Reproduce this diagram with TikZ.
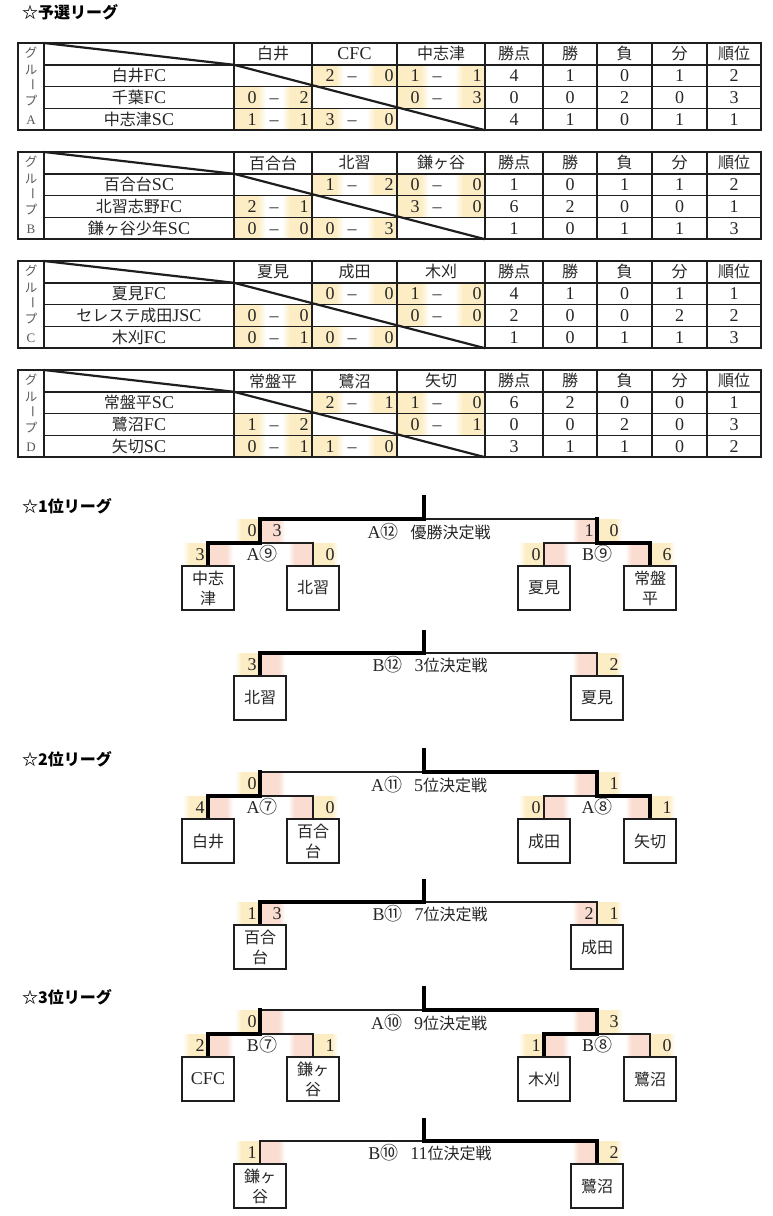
\documentclass[tikz,border=0pt]{standalone}
\usepackage{fontspec}
\setmainfont{Liberation Serif}
\newfontfamily\jp{Noto Sans CJK JP}
\definecolor{sy}{RGB}{252,237,196}
\definecolor{sp}{RGB}{250,220,208}
\definecolor{ln}{RGB}{30,30,30}
\pgfdeclarehorizontalshading{yfl}{100bp}{color(0bp)=(white); color(25bp)=(white); color(38bp)=(sy); color(100bp)=(sy)}
\pgfdeclarehorizontalshading{yfr}{100bp}{color(0bp)=(sy); color(62bp)=(sy); color(75bp)=(white); color(100bp)=(white)}
\pgfdeclarehorizontalshading{pfl}{100bp}{color(0bp)=(white); color(25bp)=(white); color(38bp)=(sp); color(100bp)=(sp)}
\pgfdeclarehorizontalshading{pfr}{100bp}{color(0bp)=(sp); color(62bp)=(sp); color(75bp)=(white); color(100bp)=(white)}
\newcount\nnc
\newcommand\J[1]{{\jp\fontsize{16}{20}\selectfont #1}}
\newcommand\CN[1]{{\jp\fontsize{18}{20}\selectfont #1}}
\newcommand\TX[4][]{\global\advance\nnc by 1\relax\node[tx,#1] (n\the\nnc) at (#2,#3) {#4};}
\tikzset{
  tx/.style={inner sep=0pt, font=\fontsize{18}{20}\selectfont, text=black!85},
  dsh/.style={anchor=base},
  tl/.style={draw=ln, line width=1.5pt},
  dg/.style={draw=ln, line width=2.2pt},
  tn/.style={draw=ln, line width=1.3pt},
  tk/.style={draw=black, line width=3.6pt, shorten >=-1.8pt},
  bx/.style={draw=ln, line width=1.3pt, fill=white, minimum width=52pt, minimum height=44pt, inner sep=0pt, align=center, text=black!85, font=\jp\fontsize{16}{20}\selectfont},
  gl/.style={inner sep=0pt, text=black!65, font=\jp\fontsize{12.5}{13}\selectfont},
  ttl/.style={anchor=west, inner sep=0pt, font=\jp\bfseries\fontsize{16}{18}\selectfont}
}
% table helpers
\newcommand\scc[4]{%
  \pgfmathsetmacro\xl{{234,312,397}[#1-1]}%
  \pgfmathsetmacro\xr{{312,397,485}[#1-1]}%
  \pgfmathsetmacro\yt{21.8*#2}%
  \pgfmathsetmacro\yc{21.8*#2+10.9}%
  \pgfmathsetmacro\yb{21.8*#2+17}%
  \shade[shading=yfr] (\xl,\yt) rectangle ++(32,21.8);
  \shade[shading=yfl] (\xr,\yt) rectangle ++(-30,21.8);
  \TX{\xl+18}{\yc}{#3}\TX[dsh]{\xl+40}{\yb}{–}\TX{\xr-8}{\yc}{#4}}
\newcommand\tframe{%
  \draw[tl] (18,0) rectangle (761,87.2);
  \foreach \x in {44,234,312,397,485,543,597,652,707} {\draw[tl] (\x,0) -- (\x,87.2);}
  \foreach \y in {21.8,43.6,65.4} {\draw[tl] (44,\y) -- (761,\y);}
  \draw[dg] (44,0) -- (234,21.8);
  \draw[dg] (234,21.8) -- (485,87.2);}
\newcommand\thd[4]{%
  \TX[gl]{31}{9.5}{グ}\TX[gl]{31}{26.5}{ル}\TX[gl,rotate=-90]{31}{42}{ー}\TX[gl]{31}{58}{プ}%
  \TX[gl,font=\fontsize{13}{14}\selectfont]{31}{77.5}{#1}%
  \TX{273}{10.9}{#2}\TX{354.5}{10.9}{#3}\TX{441}{10.9}{#4}%
  \TX{514}{10.9}{\J{勝点}}\TX{570}{10.9}{\J{勝}}\TX{624.5}{10.9}{\J{負}}\TX{679.5}{10.9}{\J{分}}\TX{734}{10.9}{\J{順位}}}
\newcommand\trow[3]{%
  \pgfmathsetmacro\yc{21.8*#1+10.9}%
  \TX{139}{\yc}{#2}%
  \foreach \v [count=\i] in {#3} {\pgfmathsetmacro\xs{{514,570,624.5,679.5,734}[\i-1]}\TX{\xs}{\yc}{\v}}}
% bracket helpers
\newcommand\cY[5]{%
  \pgfmathsetmacro\ym{(#2+#3)/2}%
  \shade[shading=yfl] (#1-25,#2) rectangle (#1,#3);
  \shade[shading=pfr] (#1,#2) rectangle (#1+25,#3);
  \if\relax\detokenize{#4}\relax\else\TX{#1-8}{\ym}{#4}\fi
  \if\relax\detokenize{#5}\relax\else\TX{#1+17}{\ym}{#5}\fi}
\newcommand\cR[5]{%
  \pgfmathsetmacro\ym{(#2+#3)/2}%
  \shade[shading=pfl] (#1-25,#2) rectangle (#1,#3);
  \shade[shading=yfr] (#1,#2) rectangle (#1+25,#3);
  \if\relax\detokenize{#4}\relax\else\TX{#1-8}{\ym}{#4}\fi
  \if\relax\detokenize{#5}\relax\else\TX{#1+17}{\ym}{#5}\fi}
\newcommand\upc[1]{%
  \coordinate (#1c) at (424,0); \coordinate (#1s) at (424,-22);
  \coordinate (#1a) at (260,0); \coordinate (#1b) at (597,0);
  \coordinate (#1a2) at (260,24); \coordinate (#1b2) at (597,24);
  \coordinate (#1l1) at (208,24); \coordinate (#1l2) at (313,24);
  \coordinate (#1r1) at (544,24); \coordinate (#1r2) at (650,24);}
\newcommand\upbox[5]{%
  \node[bx] (#1t1) at (208,69) {#2};
  \node[bx] (#1t2) at (313,69) {#3};
  \node[bx] (#1t3) at (544,69) {#4};
  \node[bx] (#1t4) at (650,69) {#5};
  \draw[tn] (#1t1.north) -- (#1l1) -- (#1l2) -- (#1t2.north);
  \draw[tn] (#1a2) -- (#1a) -- (#1b) -- (#1b2);
  \draw[tn] (#1t3.north) -- (#1r1) -- (#1r2) -- (#1t4.north);}
\newcommand\loc[1]{%
  \coordinate (#1Lc) at (424,0); \coordinate (#1Ls) at (424,-21);
  \coordinate (#1La) at (260,0); \coordinate (#1Lb) at (597,0);}
\newcommand\lobox[3]{%
  \node[bx] (#1u1) at (260,45) {#2};
  \node[bx] (#1u2) at (597,45) {#3};
  \draw[tn] (#1u1.north) -- (#1La) -- (#1Lb) -- (#1u2.north);}
\begin{document}
\begin{tikzpicture}[x=1pt,y=-1pt]
\useasboundingbox (0,0) rectangle (773,1216);
\node[ttl] (ttl0) at (22,12) {☆予選リーグ};
% ---------- group A
\begin{scope}[yshift=-43pt]
  \scc{2}{1}{2}{0}\scc{3}{1}{1}{1}
  \scc{1}{2}{0}{2}\scc{3}{2}{0}{3}
  \scc{1}{3}{1}{1}\scc{2}{3}{3}{0}
  \tframe
  \thd{A}{\J{白井}}{CFC}{\J{中志津}}
  \trow{1}{\J{白井}FC}{4,1,0,1,2}
  \trow{2}{\J{千葉}FC}{0,0,2,0,3}
  \trow{3}{\J{中志津}SC}{4,1,0,1,1}
\end{scope}
% ---------- group B
\begin{scope}[yshift=-152pt]
  \scc{2}{1}{1}{2}\scc{3}{1}{0}{0}
  \scc{1}{2}{2}{1}\scc{3}{2}{3}{0}
  \scc{1}{3}{0}{0}\scc{2}{3}{0}{3}
  \tframe
  \thd{B}{\J{百合台}}{\J{北習}}{\J{鎌ヶ谷}}
  \trow{1}{\J{百合台}SC}{1,0,1,1,2}
  \trow{2}{\J{北習志野}FC}{6,2,0,0,1}
  \trow{3}{\J{鎌ヶ谷少年}SC}{1,0,1,1,3}
\end{scope}
% ---------- group C
\begin{scope}[yshift=-261pt]
  \scc{2}{1}{0}{0}\scc{3}{1}{1}{0}
  \scc{1}{2}{0}{0}\scc{3}{2}{0}{0}
  \scc{1}{3}{0}{1}\scc{2}{3}{0}{0}
  \tframe
  \thd{C}{\J{夏見}}{\J{成田}}{\J{木刈}}
  \trow{1}{\J{夏見}FC}{4,1,0,1,1}
  \trow{2}{\J{セレステ成田}JSC}{2,0,0,2,2}
  \trow{3}{\J{木刈}FC}{1,0,1,1,3}
\end{scope}
% ---------- group D
\begin{scope}[yshift=-370pt]
  \scc{2}{1}{2}{1}\scc{3}{1}{1}{0}
  \scc{1}{2}{1}{2}\scc{3}{2}{0}{1}
  \scc{1}{3}{0}{1}\scc{2}{3}{1}{0}
  \tframe
  \thd{D}{\J{常盤平}}{\J{鷺沼}}{\J{矢切}}
  \trow{1}{\J{常盤平}SC}{6,2,0,0,1}
  \trow{2}{\J{鷺沼}FC}{0,0,2,0,3}
  \trow{3}{\J{矢切}SC}{3,1,1,0,2}
\end{scope}
% ---------- 1st league
\begin{scope}[yshift=-519pt]
  \node[ttl] (ttl1) at (22,-13) {☆1位リーグ};
  \upc{S1}
  \cY{260}{0}{24}{0}{3}\cR{597}{0}{24}{1}{0}
  \cY{208}{24}{47}{3}{}\cR{313}{24}{47}{}{0}\cY{544}{24}{47}{0}{}\cR{650}{24}{47}{}{6}
  \upbox{S1}{中志\\津}{北習}{夏見}{常盤\\平}
  \draw[tk] (S1t1.north) -- (S1l1) -- (S1a2) -- (S1a) -- (S1c) -- (S1s);
  \draw[tk] (S1t4.north) -- (S1r2) -- (S1b2) -- (S1b);
  \TX{262}{35}{A\CN{⑨}}\TX{597}{35}{B\CN{⑨}}
  \TX{429}{12.5}{A\CN{⑫}\hspace{12pt}\J{優勝決定戦}}
\end{scope}
\begin{scope}[yshift=-653pt]
  \loc{S1}
  \cY{260}{0}{23}{3}{}\cR{597}{0}{23}{}{2}
  \lobox{S1}{北習}{夏見}
  \draw[tk] (S1u1.north) -- (S1La) -- (S1Lc) -- (S1Ls);
  \TX{430}{12}{B\CN{⑫}\hspace{12pt}3\J{位決定戦}}
\end{scope}
% ---------- 2nd league
\begin{scope}[yshift=-772pt]
  \node[ttl] (ttl2) at (22,-13) {☆2位リーグ};
  \upc{S2}
  \cY{260}{0}{24}{0}{}\cR{597}{0}{24}{}{1}
  \cY{208}{24}{47}{4}{}\cR{313}{24}{47}{}{0}\cY{544}{24}{47}{0}{}\cR{650}{24}{47}{}{1}
  \upbox{S2}{白井}{百合\\台}{成田}{矢切}
  \draw[tk] (S2t1.north) -- (S2l1) -- (S2a2) -- (S2a);
  \draw[tk] (S2t4.north) -- (S2r2) -- (S2b2) -- (S2b) -- (S2c) -- (S2s);
  \TX{262}{35}{A\CN{⑦}}\TX{597}{35}{A\CN{⑧}}
  \TX{429}{12.5}{A\CN{⑪}\hspace{12pt}5\J{位決定戦}}
\end{scope}
\begin{scope}[yshift=-902pt]
  \loc{S2}
  \cY{260}{0}{23}{1}{3}\cR{597}{0}{23}{2}{1}
  \lobox{S2}{百合\\台}{成田}
  \draw[tk] (S2u1.north) -- (S2La) -- (S2Lc) -- (S2Ls);
  \TX{430}{12}{B\CN{⑪}\hspace{12pt}7\J{位決定戦}}
\end{scope}
% ---------- 3rd league
\begin{scope}[yshift=-1010pt]
  \node[ttl] (ttl3) at (22,-13) {☆3位リーグ};
  \upc{S3}
  \cY{260}{0}{24}{0}{}\cR{597}{0}{24}{}{3}
  \cY{208}{24}{47}{2}{}\cR{313}{24}{47}{}{1}\cY{544}{24}{47}{1}{}\cR{650}{24}{47}{}{0}
  \upbox{S3}{{\rmfamily\fontsize{18}{20}\selectfont CFC}}{鎌ヶ\\谷}{木刈}{鷺沼}
  \draw[tk] (S3t1.north) -- (S3l1) -- (S3a2) -- (S3a);
  \draw[tk] (S3t3.north) -- (S3r1) -- (S3b2) -- (S3b) -- (S3c) -- (S3s);
  \TX{262}{35}{B\CN{⑦}}\TX{597}{35}{B\CN{⑧}}
  \TX{429}{12.5}{A\CN{⑩}\hspace{12pt}9\J{位決定戦}}
\end{scope}
\begin{scope}[yshift=-1141pt]
  \loc{S3}
  \cY{260}{0}{23}{1}{}\cR{597}{0}{23}{}{2}
  \lobox{S3}{鎌ヶ\\谷}{鷺沼}
  \draw[tk] (S3u2.north) -- (S3Lb) -- (S3Lc) -- (S3Ls);
  \TX{430}{12}{B\CN{⑩}\hspace{12pt}11\J{位決定戦}}
\end{scope}
\end{tikzpicture}
\end{document}
